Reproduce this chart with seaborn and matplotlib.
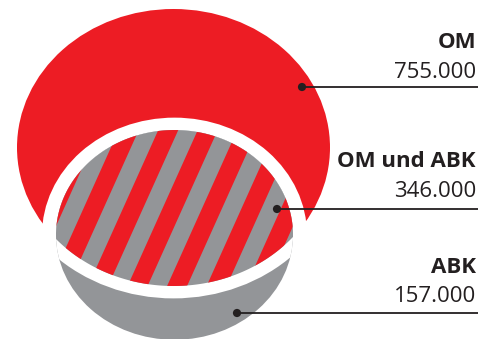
import numpy as np
import pandas as pd
import matplotlib
matplotlib.use("Agg")
import matplotlib.pyplot as plt
import seaborn as sns
from matplotlib.patches import Ellipse, Polygon

# ---- data ----
categories = ["OM", "OM und ABK", "ABK"]
values = [755000, 346000, 157000]

# ---- style ----
sns.set_theme(style="white")
plt.rcParams['font.family'] = ['Open Sans', 'DejaVu Sans']

RED = "#ED1C24"
GRAY = "#939598"
INK = "#231F20"

fig = plt.figure(figsize=(4.78, 3.39), dpi=100)
ax = fig.add_axes([0, 0, 1, 1])

K = 0.885                       # vertical squash of the circles
big = (173.5, 147.5, 156.5)     # cx, cy, horizontal radius
small = (174.5, 234.9, 118.5)
gap = 14


def ell(c, extra=0, **kw):
    return Ellipse((c[0], c[1]), 2 * (c[2] + extra), 2 * (c[2] + extra) * K, **kw)


ax.add_patch(ell(big, fc=RED, ec='none', zorder=1))
ax.add_patch(ell(small, gap, fc='white', ec='none', zorder=2))
g = ell(small, fc=GRAY, ec='none', zorder=3)
ax.add_patch(g)
band = ell(big, gap, fc='white', ec='none', zorder=4)
ax.add_patch(band)
band.set_clip_path(g)

# lens (intersection) polygon
t = np.linspace(0, 2 * np.pi, 4000, endpoint=False)


def pts(c):
    return c[0] + c[2] * np.cos(t), c[1] + c[2] * K * np.sin(t)


def inside(c, x, y):
    return ((x - c[0]) / c[2]) ** 2 + ((y - c[1]) / (c[2] * K)) ** 2 <= 1


bx, by = pts(big)
sx, sy = pts(small)
X = np.concatenate([bx[inside(small, bx, by)], sx[inside(big, sx, sy)]])
Y = np.concatenate([by[inside(small, bx, by)], sy[inside(big, sx, sy)]])
order = np.argsort(np.arctan2(Y - Y.mean(), X - X.mean()))
lens = Polygon(np.column_stack([X[order], Y[order]]), closed=True,
               fc=GRAY, ec='none', zorder=5)
ax.add_patch(lens)

# diagonal red stripes inside the lens
s = 0.45
P = 39.5
gray_w = 19.5
u_end = 283 + s * 204          # a gray stripe ends here
y1, y2 = 100, 339
for k in range(-12, 12):
    ulo = u_end + k * P
    uhi = ulo + (P - gray_w)
    poly = Polygon([(ulo - s * y1, y1), (uhi - s * y1, y1),
                    (uhi - s * y2, y2), (ulo - s * y2, y2)],
                   closed=True, fc=RED, ec='none', zorder=6)
    ax.add_patch(poly)
    poly.set_clip_path(lens)

# labels, leader lines and dots
dot_x = [302, 277, 237]
line_y = [87, 209, 313]
name_base = [48, 167, 273]
val_base = [78, 197, 302]

for name, val, lx, ly, nb, vb in zip(categories, values, dot_x, line_y, name_base, val_base):
    ax.plot([lx, 478], [ly, ly], color=INK, lw=1.3, zorder=9, solid_capstyle='butt')
    ax.text(476, nb, name, ha='right', va='baseline', fontsize=16,
            fontweight='bold', color=INK)
    ax.text(476, vb, f"{val:,}".replace(",", "."), ha='right', va='baseline',
            fontsize=16, color=INK)

dots = pd.DataFrame({"x": dot_x, "y": line_y, "cat": categories})
sns.scatterplot(data=dots, x="x", y="y", s=35, color=INK, edgecolor='none',
                ax=ax, zorder=10, legend=False)

ax.set_xlim(0, 478)
ax.set_ylim(339, 0)
ax.axis('off')

fig.savefig("out.png", dpi=100)
